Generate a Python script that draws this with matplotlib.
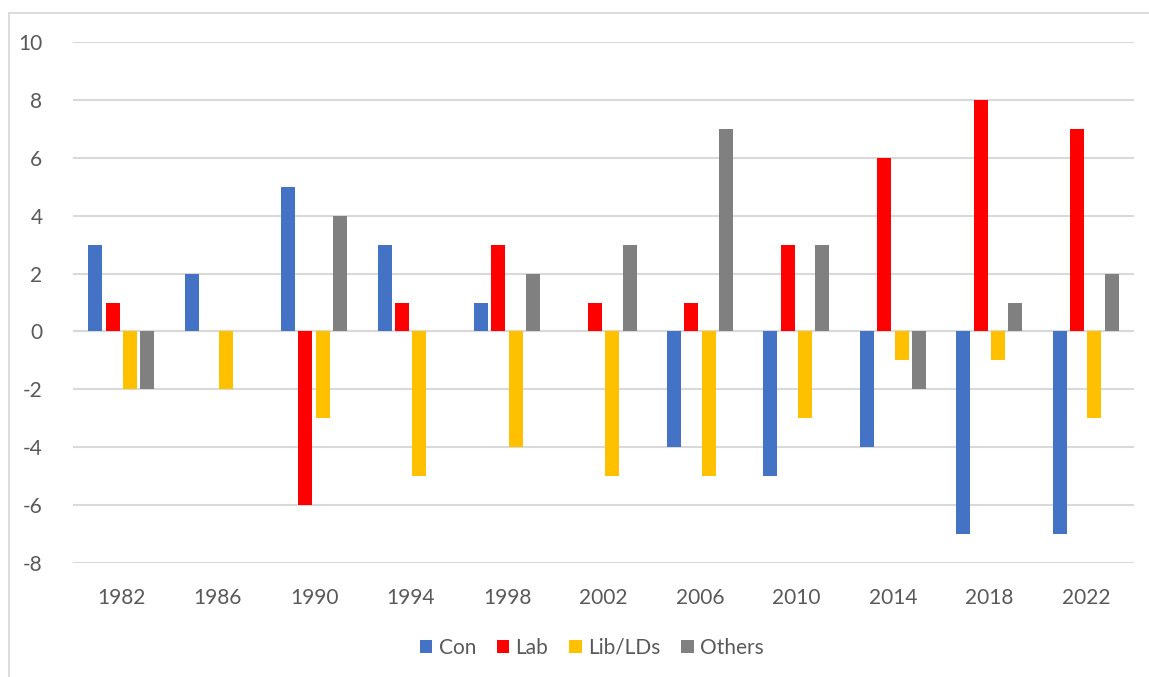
import matplotlib
matplotlib.use("Agg")
import matplotlib.pyplot as plt
import numpy as np
from matplotlib.patches import Rectangle

years = ["1982", "1986", "1990", "1994", "1998", "2002", "2006", "2010", "2014", "2018", "2022"]
con = [3, 2, 5, 3, 1, 0, -4, -5, -4, -7, -7]
lab = [1, 0, -6, 1, 3, 1, 1, 3, 6, 8, 7]
lib = [-2, -2, -3, -5, -4, -5, -5, -3, -1, -1, -3]
others = [-2, 0, 4, 0, 2, 3, 7, 3, -2, 1, 2]

series = [("Con", con, "#4472C4"), ("Lab", lab, "#FF0000"),
          ("Lib/LDs", lib, "#FFC000"), ("Others", others, "#808080")]

plt.rcParams['font.family'] = ['Lato', 'DejaVu Sans']
plt.rcParams['axes.unicode_minus'] = False

fig = plt.figure(figsize=(11.49, 6.77), dpi=100)
fig.patch.set_facecolor("white")

# outer chart frame (partially cropped)
fig.patches.append(Rectangle((8.5 / 1149, -0.1), 1.2, 1.1 - 12.5 / 677,
                             transform=fig.transFigure, fill=False,
                             edgecolor="#D9D9D9", linewidth=1.3))

ax = fig.add_axes([73 / 1149, 1 - 563 / 677, (1134 - 73) / 1149, (563 - 42) / 677])

x = np.arange(len(years))
slot = 0.18
width = 0.145
for i, (name, vals, col) in enumerate(series):
    ax.bar(x + (i - 1.5) * slot, vals, width=width, color=col, label=name,
           linewidth=0, zorder=3)

ax.set_xlim(-0.5, len(years) - 0.5)
ax.set_ylim(-8, 10)
ax.set_yticks(range(-8, 11, 2))
ax.set_xticks(x)
ax.set_xticklabels(years)
ax.grid(axis="y", color="#D9D9D9", linewidth=1.5, zorder=0)
ax.axhline(0, color="#D9D9D9", linewidth=1.5, zorder=1)
for s in ax.spines.values():
    s.set_visible(False)
ax.tick_params(axis="both", length=0, labelsize=15, labelcolor="#595959")
ax.tick_params(axis="y", pad=22)
ax.tick_params(axis="x", pad=18)

handles, labels = ax.get_legend_handles_labels()
fig.legend(handles, labels, loc="center", bbox_to_anchor=(0.515, 1 - 648 / 677),
           ncol=4, frameon=False, fontsize=15, handlelength=0.6, handleheight=0.6,
           handletextpad=0.3, columnspacing=1.0, labelcolor="#595959")

fig.savefig("out.png", dpi=100, facecolor="white")
